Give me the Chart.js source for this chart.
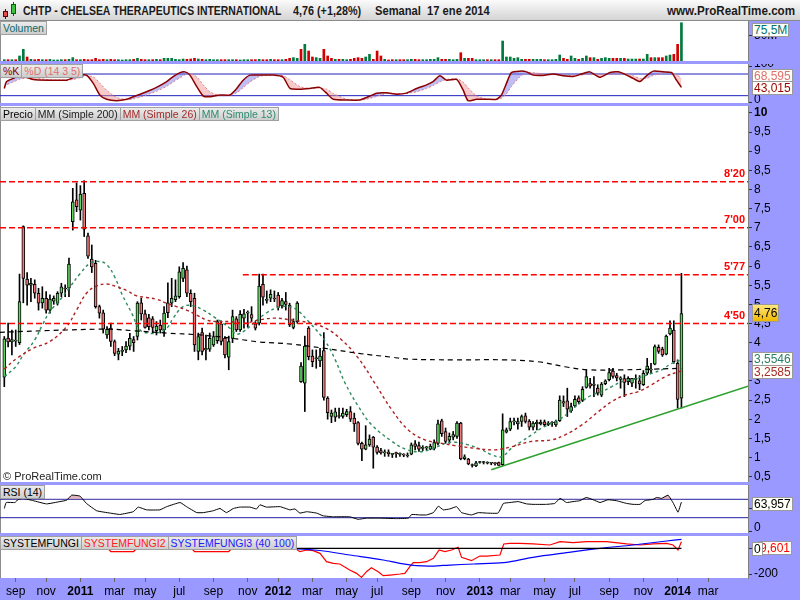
<!DOCTYPE html>
<html>
<head>
<meta charset="utf-8">
<script src="https://cdn.jsdelivr.net/npm/chart.js@4.4.1/dist/chart.umd.min.js"></script>
<style>
  body { margin:0; width:800px; height:600px; position:relative; overflow:hidden; background:#9999ff;
         font-family:"Liberation Sans", Arial, sans-serif; }
  canvas { position:absolute; left:0; }
  .hdr { position:absolute; left:0; top:0; width:800px; height:21px; box-sizing:border-box;
         background:linear-gradient(#fbfbfb,#d4d4d4); border-bottom:1px solid #8a8a8a;
         font-weight:bold; font-size:12px; color:#1a1a1a; }
  .hdr span { position:absolute; top:4px; white-space:nowrap; transform-origin:left center; }
  .tabs { position:absolute; left:0; display:flex; }
  .tab { height:12px; line-height:12px; font-size:10.5px; padding:0 2px; white-space:nowrap;
         background:linear-gradient(#ececec,#cdcdcd); border:1px solid #a0a0a0; margin-right:-1px; }
  .box { position:absolute; font-size:12px; line-height:12px; padding:0 1px; background:#fffffa;
         border:1px solid #9a9a9a; white-space:nowrap; }
  .copy { position:absolute; left:3px; top:470px; font-size:11px; color:#222; }
</style>
</head>
<body>
<div class="hdr">
  <div style="position:absolute;left:5px;top:9px;width:1px;height:10px;background:#600"></div>
  <div style="position:absolute;left:3px;top:11px;width:5px;height:6px;background:#e05050;border:1px solid #600;box-sizing:border-box"></div>
  <div style="position:absolute;left:13px;top:2px;width:1px;height:14px;background:#060"></div>
  <div style="position:absolute;left:11px;top:4px;width:5px;height:10px;background:#40c040;border:1px solid #060;box-sizing:border-box"></div>
  <span style="left:23px;transform:scaleX(0.87)">CHTP - CHELSEA THERAPEUTICS INTERNATIONAL</span>
  <span style="left:293px;transform:scaleX(0.9)">4,76 (+1,28%)</span>
  <span style="left:375px;transform:scaleX(0.93)">Semanal&nbsp; 17 ene 2014</span>
  <span style="left:667px;transform:scaleX(0.97)">www.ProRealTime.com</span>
</div>

<canvas id="cVol" width="800" height="40" style="top:21px"></canvas>
<canvas id="cSto" width="800" height="39" style="top:64px"></canvas>
<canvas id="cPrice" width="800" height="376" style="top:106px"></canvas>
<canvas id="cRsi" width="800" height="48" style="top:485px"></canvas>
<canvas id="cSf" width="800" height="64" style="top:536px"></canvas>

<div class="tabs" style="top:21px"><div class="tab" style="color:#0a6a6a">Volumen</div></div>
<div class="tabs" style="top:64px">
  <div class="tab" style="color:#8b0000">%K</div>
  <div class="tab" style="color:#e07070">%D (14 3 5)</div>
</div>
<div class="tabs" style="top:107px">
  <div class="tab" style="color:#000">Precio</div>
  <div class="tab" style="color:#222">MM (Simple 200)</div>
  <div class="tab" style="color:#a52a2a">MM (Simple 26)</div>
  <div class="tab" style="color:#2e8b6f">MM (Simple 13)</div>
</div>
<div class="tabs" style="top:485px"><div class="tab" style="color:#000">RSI (14)</div></div>
<div class="tabs" style="top:536px">
  <div class="tab" style="color:#000">SYSTEMFUNGI</div>
  <div class="tab" style="color:#ff2020">SYSTEMFUNGI2</div>
  <div class="tab" style="color:#2020ff">SYSTEMFUNGI3 (40 100)</div>
</div>
<div class="copy">© ProRealTime.com</div>

<div class="box" style="left:752px;top:23px;color:#007070">75,5M</div>
<div class="box" style="left:752px;top:69px;color:#e07070">68,595</div>
<div class="box" style="left:752px;top:81px;color:#990000">43,015</div>
<div class="box" style="left:752px;top:304px;padding:2px 1px;background:linear-gradient(#ffe680,#f0b800);color:#000">4,76</div>
<div class="box" style="left:752px;top:352px;color:#2a8070">3,5546</div>
<div class="box" style="left:752px;top:365px;color:#a52a2a">3,2585</div>
<div class="box" style="left:752px;top:497px;color:#000">63,957</div>
<div class="box" style="left:758px;top:541px;color:#ff0000">9,601</div>
<div class="box" style="left:752px;top:542px;color:#000">0</div>

<script>
const FONT = '"Liberation Sans", Arial, sans-serif';
const X_MIN = -1.13, X_MAX = 195.5;

// x axis: week index of the first bar of each labelled month
const tickWeeks = [3, 11, 20, 29, 37, 46, 55, 64, 72, 81, 90, 98, 107, 116, 125, 133, 142, 150, 159, 168, 177, 185];
const tickLabels = ['sep', 'nov', '2011', 'mar', 'may', 'jul', 'sep', 'nov', '2012', 'mar', 'may', 'jul',
                    'sep', 'nov', '2013', 'mar', 'may', 'jul', 'sep', 'nov', '2014', 'mar'];

// weekly candles, from aug 2010 to 17 jan 2014
const candleOpen = [
  3.10, 4.12, 4.02, 4.04, 4.00, 7.03, 5.66, 5.50, 5.52, 5.29,
  5.04, 5.16, 4.85, 5.08, 5.03, 5.29, 5.42, 5.42, 7.16, 7.73,
  7.46, 7.90, 6.79, 6.18, 6.07, 4.94, 4.78, 4.20, 4.38, 4.03,
  3.70, 3.77, 3.81, 3.91, 4.08, 4.16, 5.04, 4.75, 4.65, 4.62,
  4.31, 4.45, 4.33, 5.04, 5.03, 5.12, 5.20, 5.68, 5.90, 5.29,
  5.16, 3.77, 4.26, 3.81, 3.83, 3.94, 4.05, 4.49, 4.12, 3.62,
  4.11, 4.62, 4.33, 4.64, 4.77, 4.73, 4.49, 4.51, 5.52, 5.10,
  5.16, 5.15, 5.24, 4.96, 5.07, 4.98, 4.40, 4.55, 2.98, 2.94,
  4.38, 3.65, 3.58, 3.52, 3.79, 2.55, 2.07, 2.05, 2.08, 2.07,
  2.12, 2.20, 2.03, 1.91, 1.37, 1.22, 1.33, 1.53, 1.27, 1.18,
  1.12, 1.14, 1.08, 1.12, 1.08, 1.08, 1.04, 1.09, 1.36, 1.31,
  1.24, 1.25, 1.22, 1.24, 1.37, 1.96, 1.68, 1.45, 1.53, 1.55,
  1.90, 0.97, 0.96, 0.80, 0.78, 0.87, 0.87, 0.85, 0.85, 0.86,
  0.87, 0.81, 1.66, 1.74, 1.93, 1.88, 1.94, 2.09, 1.95, 1.79,
  1.88, 1.88, 1.93, 1.86, 1.90, 1.85, 1.96, 2.46, 2.48, 2.22,
  2.35, 2.56, 2.49, 2.83, 2.93, 2.88, 2.81, 2.63, 2.93, 3.03,
  3.26, 3.14, 3.04, 3.06, 2.98, 2.94, 3.04, 3.00, 2.90, 3.20,
  3.28, 3.44, 3.88, 3.83, 3.70, 4.23, 4.33, 3.46, 2.55
];
const candleHigh = [
  4.16, 4.51, 4.33, 4.33, 5.79, 7.05, 5.83, 5.68, 5.64, 5.42,
  5.46, 5.33, 5.25, 5.22, 5.33, 5.55, 5.51, 6.21, 8.03, 8.17,
  8.10, 8.23, 6.86, 6.55, 6.15, 4.98, 4.85, 4.42, 4.51, 4.07,
  3.85, 3.90, 4.03, 4.24, 4.16, 5.07, 5.16, 4.85, 4.74, 4.68,
  4.55, 4.59, 4.94, 5.56, 5.68, 5.64, 5.98, 6.09, 6.00, 5.38,
  5.29, 4.25, 4.38, 4.20, 4.25, 4.29, 4.59, 4.57, 4.16, 4.17,
  4.85, 4.68, 4.84, 4.87, 4.83, 4.94, 4.55, 5.79, 5.79, 5.35,
  5.38, 5.35, 5.31, 5.16, 5.31, 5.03, 4.62, 5.07, 3.48, 4.17,
  4.42, 3.81, 3.81, 3.85, 4.26, 2.59, 2.24, 2.29, 2.29, 2.29,
  2.26, 2.33, 2.16, 1.94, 1.40, 1.83, 1.59, 1.55, 1.31, 1.24,
  1.20, 1.20, 1.11, 1.14, 1.12, 1.10, 1.12, 1.38, 1.44, 1.40,
  1.31, 1.29, 1.35, 1.46, 1.98, 2.00, 1.77, 1.64, 1.68, 1.94,
  1.92, 1.07, 0.98, 0.83, 0.90, 0.90, 0.90, 0.89, 0.87, 0.87,
  0.88, 2.14, 1.77, 2.03, 2.03, 2.03, 2.11, 2.16, 1.99, 1.94,
  1.98, 1.98, 1.98, 1.94, 1.94, 1.98, 2.61, 2.61, 2.81, 2.42,
  2.61, 2.61, 2.85, 3.29, 3.07, 3.11, 2.90, 2.96, 3.03, 3.33,
  3.33, 3.20, 3.11, 3.16, 3.11, 3.07, 3.16, 3.14, 3.27, 3.59,
  3.46, 3.94, 3.94, 3.88, 4.20, 4.57, 4.57, 3.55, 5.81
];
const candleLow = [
  2.85, 3.89, 3.68, 3.90, 3.95, 5.04, 4.98, 5.07, 5.16, 4.85,
  4.90, 4.77, 4.77, 5.00, 4.98, 5.20, 5.20, 5.20, 6.94, 7.42,
  7.20, 6.77, 6.20, 5.83, 4.90, 4.64, 4.25, 4.11, 3.90, 3.66,
  3.55, 3.66, 3.74, 3.81, 3.77, 4.07, 4.59, 4.38, 4.33, 4.25,
  4.20, 4.25, 4.16, 4.65, 4.94, 5.07, 5.16, 5.59, 5.20, 4.94,
  3.77, 3.55, 3.68, 3.55, 3.77, 3.90, 3.98, 3.94, 3.60, 3.29,
  4.00, 4.29, 4.29, 4.38, 4.40, 4.55, 4.33, 4.46, 4.98, 5.03,
  5.07, 5.07, 4.85, 4.90, 4.85, 4.42, 4.36, 4.51, 2.96, 2.20,
  3.55, 3.37, 3.33, 3.37, 2.50, 2.00, 1.91, 1.94, 2.03, 2.03,
  2.07, 1.94, 1.68, 1.33, 0.92, 1.20, 1.29, 0.72, 1.09, 1.09,
  1.03, 1.03, 1.00, 1.00, 1.03, 1.02, 1.01, 1.07, 1.20, 1.16,
  1.18, 1.20, 1.20, 1.20, 1.33, 1.55, 1.37, 1.37, 1.46, 1.50,
  0.94, 0.94, 0.81, 0.75, 0.76, 0.85, 0.83, 0.83, 0.81, 0.80,
  0.79, 0.79, 1.64, 1.70, 1.85, 1.74, 1.81, 1.90, 1.72, 1.72,
  1.72, 1.85, 1.81, 1.83, 1.81, 1.81, 1.94, 2.33, 2.07, 2.18,
  2.33, 2.40, 2.46, 2.81, 2.81, 2.59, 2.63, 2.59, 2.90, 3.00,
  3.07, 3.00, 2.81, 2.59, 2.90, 2.85, 2.81, 2.77, 2.88, 3.16,
  3.20, 3.42, 3.72, 3.64, 3.68, 4.20, 3.46, 2.29, 2.29
];
const candleClose = [
  4.10, 4.02, 4.08, 4.06, 5.07, 5.68, 5.50, 5.55, 5.29, 5.03,
  5.16, 4.85, 5.14, 5.16, 5.29, 5.46, 5.40, 6.05, 7.68, 7.55,
  7.88, 6.96, 6.26, 5.98, 4.94, 4.77, 4.35, 4.35, 4.03, 3.72,
  3.78, 3.78, 3.91, 4.11, 4.00, 5.03, 4.75, 4.40, 4.42, 4.40,
  4.43, 4.33, 4.77, 4.78, 5.16, 5.22, 5.85, 5.94, 5.29, 5.07,
  3.94, 4.16, 3.77, 3.85, 4.11, 4.16, 4.55, 4.03, 3.68, 4.03,
  4.68, 4.33, 4.74, 4.75, 4.78, 4.64, 4.38, 5.48, 5.19, 5.13,
  5.26, 5.14, 4.92, 5.10, 5.00, 4.46, 4.55, 5.03, 3.39, 3.91,
  3.63, 3.50, 3.60, 3.65, 2.57, 2.17, 2.16, 2.19, 2.07, 2.16,
  2.20, 2.00, 1.88, 1.37, 1.22, 1.33, 1.48, 1.27, 1.13, 1.12,
  1.13, 1.10, 1.08, 1.10, 1.08, 1.06, 1.06, 1.33, 1.29, 1.22,
  1.25, 1.26, 1.30, 1.39, 1.88, 1.62, 1.42, 1.55, 1.60, 1.90,
  0.96, 1.02, 0.83, 0.79, 0.86, 0.87, 0.87, 0.85, 0.85, 0.84,
  0.79, 1.72, 1.72, 1.94, 1.94, 1.94, 2.07, 1.94, 1.79, 1.90,
  1.92, 1.92, 1.86, 1.90, 1.90, 1.94, 2.50, 2.42, 2.26, 2.33,
  2.52, 2.46, 2.78, 3.11, 2.86, 2.92, 2.68, 2.92, 3.00, 3.22,
  3.12, 3.08, 3.08, 2.96, 3.07, 3.07, 3.07, 2.92, 3.20, 3.39,
  3.30, 3.90, 3.77, 3.68, 4.17, 4.38, 3.50, 2.52, 4.76
];
// weekly volume, millions of shares
const volumeM = [
  2.6, 2.6, 2.6, 2.6, 9.9, 23, 7.9, 3.3, 2.6, 3.3,
  2.6, 2.6, 3.3, 2.0, 2.0, 2.6, 2.6, 3.3, 6.6, 2.6,
  2.6, 3.3, 2.6, 2.6, 5.3, 2.6, 3.3, 2.6, 3.3, 2.6,
  2.6, 2.0, 2.6, 2.6, 3.3, 5.3, 3.3, 2.6, 2.6, 2.6,
  3.3, 2.6, 5.3, 5.3, 5.3, 3.3, 2.6, 3.9, 3.3, 3.9,
  5.3, 3.9, 3.3, 2.6, 3.3, 2.6, 2.6, 2.6, 2.6, 2.6,
  2.6, 2.6, 2.0, 2.6, 2.6, 2.6, 2.6, 3.3, 2.6, 2.6,
  3.3, 2.6, 2.6, 2.6, 3.3, 5.3, 6.6, 5.3, 23, 32.9,
  19.7, 7.9, 6.6, 5.3, 23, 9.9, 5.3, 3.3, 3.3, 3.3,
  2.6, 3.3, 5.3, 6.6, 5.3, 7.9, 13.1, 3.3, 19.7, 9.9,
  3.3, 2.0, 2.6, 2.6, 2.6, 2.6, 2.6, 3.3, 3.3, 2.6,
  2.6, 2.6, 3.3, 3.3, 6.6, 3.3, 3.3, 3.3, 2.6, 3.3,
  16.4, 5.3, 5.3, 5.3, 2.6, 2.6, 2.6, 2.6, 2.6, 2.6,
  2.6, 39.4, 7.9, 7.9, 5.3, 6.6, 3.3, 3.3, 3.3, 3.3,
  3.3, 3.3, 2.6, 2.6, 2.6, 3.3, 11.8, 5.3, 3.3, 9.9,
  5.3, 3.3, 5.3, 9.9, 6.6, 6.6, 3.3, 5.3, 6.6, 5.3,
  5.3, 5.3, 5.3, 5.3, 3.9, 3.9, 3.9, 3.9, 3.9, 13.1,
  6.6, 6.6, 6.6, 6.6, 9.9, 11.8, 13.1, 32.9, 75.5
];

// moving averages (week index, price)
const ma200Weeks = [-1.2, 16.4, 27.8, 34, 42.7, 51.4, 59.3, 66.8, 75.5, 84.3, 93.1, 101.8, 106.2, 118.5, 131.6, 140.3, 147.4, 153.5, 162.3, 171, 178];
const ma200 = [4.27, 4.33, 4.35, 4.31, 4.25, 4.20, 4.12, 4.02, 3.96, 3.85, 3.72, 3.62, 3.57, 3.55, 3.55, 3.50, 3.37, 3.29, 3.29, 3.31, 3.33];
const ma26Weeks = [0, 3.3, 7.6, 12, 16.4, 19, 21.6, 24.3, 26.9, 29.5, 32.2, 34.8, 37.4, 40.1, 42.7, 45.3, 47.9, 50.6, 53.2, 55.8,
  59.3, 63.3, 66.8, 71.2, 75.5, 80, 84.4, 88.7, 93.1, 97.4, 101.9, 106.2, 110.6, 115, 118.5, 123.7, 129, 133.3, 138.6, 143.9,
  147.4, 151.8, 156.2, 159.7, 163.2, 166.7, 170.2, 173.7, 177.2, 178];
const ma26 = [3.31, 3.59, 3.85, 4.03, 4.42, 4.85, 5.29, 5.48, 5.53, 5.46, 5.36, 5.22, 5.18, 5.13, 5.03, 4.94, 4.85, 4.72, 4.59, 4.55,
  4.55, 4.51, 4.59, 4.64, 4.59, 4.52, 4.38, 4.07, 3.59, 2.94, 2.24, 1.72, 1.46, 1.37, 1.31, 1.24, 1.20, 1.28, 1.42, 1.46,
  1.59, 1.85, 2.20, 2.46, 2.63, 2.72, 2.90, 3.11, 3.24, 3.26];
const ma13Weeks = [0, 3, 5, 8, 10, 12, 15, 17, 20, 22.5, 25, 27, 29, 31, 33.5, 35.7, 37.8, 40, 42.7, 44.4,
  47, 49.7, 52.3, 55, 57.5, 59.5, 61, 63, 66, 69, 72, 75, 77, 80, 84.4, 87, 89.6, 93.1, 96.6, 101.9,
  105.4, 108.9, 112.4, 115.9, 118.5, 122, 125.5, 128.1, 130.7, 133.3, 136, 138.6, 141.3, 143.9, 146.5, 149.1, 151.8, 154.4,
  157, 159.7, 162.3, 164.9, 167.6, 170.2, 172.8, 175.5, 178];
const ma13 = [3.11, 3.37, 3.68, 4.07, 4.46, 4.81, 5.16, 5.42, 5.81, 6.07, 6.12, 6.03, 5.72, 5.25, 4.77, 4.33, 4.25, 4.25, 4.38, 4.64,
  4.94, 4.96, 4.85, 4.68, 4.51, 4.36, 4.22, 4.30, 4.55, 4.78, 4.92, 4.94, 4.85, 4.55, 4.03, 3.55, 2.94, 2.33, 1.85, 1.42,
  1.22, 1.15, 1.22, 1.37, 1.40, 1.33, 1.20, 1.07, 1.02, 1.24, 1.42, 1.59, 1.77, 1.90, 2.03, 2.24, 2.46, 2.63,
  2.72, 2.85, 2.98, 3.03, 3.11, 3.20, 3.29, 3.46, 3.55];

// horizontal levels and support line
const levelValues = [8.20, 7.00, 5.77, 4.50];
const levelTexts = ["8'20", "7'00", "5'77", "4'50"];
const levelStart = [X_MIN, X_MIN, 62.7, X_MIN];
const trendWeeks = [128, 195.5];
const trendValues = [0.68, 2.86];
const priceTicks = [0.5, 1, 1.5, 2, 2.5, 3, 3.5, 4, 4.5, 5, 5.5, 6, 6.5, 7, 7.5, 8, 8.5, 9, 9.5, 10];

// stochastic %K / %D (14 3 5)
const stochWeeks = [0, 0.6, 2.4, 4.1, 7.6, 12, 16.4, 18.1, 19.9, 21.6, 23.4, 25.1, 26.9, 29.5, 32.2, 33.9, 35.7, 37.4, 40, 42.7,
  44.4, 46.2, 47.5, 48.8, 50.6, 52.3, 54.1, 56.7, 59.3, 61.1, 62.8, 64.6, 67.2, 70.7, 73.3, 75.1, 77.7, 80.3, 82.9, 84.7,
  86.5, 90, 93.5, 95.2, 97.9, 100.5, 103.1, 105.7, 108.4, 111, 112.7, 114.5, 116.3, 118.9, 120.6, 121.9, 124.1, 126.8, 129.4, 130.7,
  132, 133.3, 135.5, 137.3, 139, 141.6, 144.3, 146.9, 149.5, 151.7, 153.9, 156.5, 159.2, 161.4, 163.6, 165.3, 167.1, 168.8, 170.6, 173.2,
  175.4, 176.7, 178];
const stochK = [40, 59, 68, 77, 65, 63, 63, 70, 77, 77, 54, 22, 10, 6, 10, 17, 24, 31, 43, 59,
  73, 84, 86, 77, 45, 19, 17, 22, 22, 40, 63, 77, 77, 77, 71, 40, 38, 40, 43, 27,
  10, 8, 8, 15, 27, 28, 24, 27, 40, 50, 59, 75, 63, 65, 36, 6, 10, 10, 10, 22,
  54, 84, 88, 86, 77, 76, 80, 75, 73, 80, 86, 71, 84, 86, 77, 68, 59, 75, 88, 86,
  84, 63, 43];
const stochD = [45, 50, 58, 66, 70, 64, 63, 65, 70, 75, 72, 55, 35, 15, 9, 11, 16, 22, 32, 46,
  58, 70, 78, 82, 72, 50, 30, 20, 21, 28, 42, 58, 74, 77, 75, 64, 45, 40, 41, 38,
  26, 10, 8, 10, 18, 26, 26, 26, 31, 40, 48, 58, 65, 67, 58, 42, 20, 10, 10, 13,
  25, 45, 72, 84, 84, 80, 78, 77, 76, 77, 80, 78, 79, 81, 80, 75, 68, 68, 76, 84,
  85, 78, 68.6];

// RSI (14)
const rsiWeeks = [0, 0.5, 2.8, 3.7, 5, 7.6, 11.1, 14.6, 16.4, 17.7, 19.9, 21.6, 24.3, 27.8, 30.4, 33.9, 35.2, 37.4, 40.9, 42.7,
  46.2, 47.9, 50.6, 52.3, 54.9, 56.7, 58.4, 60.2, 61.9, 64.6, 66.3, 67.2, 68.9, 72.5, 75.1, 76.4, 77.7, 79.5, 82.1, 83.8,
  86.5, 90.8, 93, 95.2, 98.7, 103.1, 106.2, 107.1, 109.2, 111, 112.8, 114.1, 115.4, 117.1, 118.9, 120.2, 122.8, 124.6, 126.8, 129.8,
  131.2, 132.9, 135.1, 137.3, 139, 142.5, 144.7, 146.1, 147.8, 149.5, 151.3, 153, 154.8, 156.6, 158.7, 160.9, 163.6, 165.3, 167.1, 168.4,
  170.6, 171.5, 172.8, 174.5, 175.9, 177.1, 178];
const rsi = [50, 63, 63, 70, 72, 67, 60, 65, 68, 79, 77, 61, 45, 40, 37, 43, 53, 47, 47, 54,
  63, 54, 41, 41, 45, 50, 41, 50, 53, 53, 49, 58, 53, 54, 47, 49, 40, 43, 40, 34,
  32, 32, 26.5, 29, 29, 28, 29, 37, 36, 36, 41, 55, 47, 49, 54, 41, 36, 41, 40, 40,
  61, 63, 65, 60, 59, 59, 61, 72, 63, 65, 67, 74, 69, 63, 69, 67, 61, 59, 59, 67,
  70, 74, 72, 79, 61, 42, 64];

// SYSTEMFUNGI lines
const sfBlackWeeks = [0, 178];
const sfBlack = [0, 0];
const sfRedWeeks = [0, 27, 28, 34, 35, 49, 50, 59, 60, 74.2, 76, 77.7, 79.5, 81.2, 83, 84.7, 86.5, 88.2, 90.8, 92.6,
  93.9, 95.2, 96.5, 98.3, 99.6, 101.4, 104, 105.3, 106.6, 107.5, 109.2, 111, 112.8, 114.3, 115.8, 117.6, 119.3, 120.2, 122.8, 125,
  126.8, 130.3, 131.3, 132.9, 135.5, 139, 143.4, 146.1, 149.5, 153.1, 158.3, 163.6, 167.1, 170.6, 174.1, 175.8, 177.1, 178];
const sfRed = [5, 5, -25, -25, 5, 5, -25, -25, 5, 0, 8, -26, -13, -18, -39, -104, -117, -122, -169, -195,
  -226, -182, -151, -182, -213, -208, -200, -195, -143, -112, -112, -104, -78, -13, -26, -13, 8, -70, -96, -60,
  -60, -52, 34, 39, 39, 34, 26, 52, 44, 52, 52, 34, 26, 34, 39, 26, -13, 52];
const sfBlueWeeks = [0, 40, 74.2, 83, 90.8, 99.6, 104, 108.4, 112.8, 117.1, 123.3, 131.2, 139, 147.8, 156.6, 165.3, 174.1, 178];
const sfBlue = [20, 15, 0, -17, -52, -91, -117, -135, -138, -130, -122, -112, -70, -34, 0, 26, 57, 70];

const pts = (xs, ys) => xs.map((x, k) => ({ x: x, y: ys[k] }));
const flat = (v, x0) => [{ x: x0, y: v }, { x: X_MAX, y: v }];

// white plot area with a grey left edge
const panelBg = {
  id: 'panelBg',
  beforeDraw(chart) {
    const { ctx, chartArea: a } = chart;
    ctx.save();
    ctx.fillStyle = '#ffffff';
    ctx.fillRect(a.left, a.top, a.right - a.left, a.bottom - a.top);
    ctx.fillStyle = '#8c8c8c';
    ctx.fillRect(a.left, a.top, 1, a.bottom - a.top);
    ctx.restore();
  }
};

// red level captions on the right of the price panel
const levelLabels = {
  id: 'levelLabels',
  afterDatasetsDraw(chart) {
    const { ctx, chartArea: a, scales: { y } } = chart;
    ctx.save();
    ctx.font = 'bold 11px ' + FONT;
    ctx.fillStyle = '#ff0000';
    ctx.textAlign = 'right';
    ctx.textBaseline = 'bottom';
    levelValues.forEach((v, k) => ctx.fillText(levelTexts[k], a.right - 3, y.getPixelForValue(v) - 2));
    ctx.restore();
  }
};

function noPad(s) {
  s.paddingTop = 0; s.paddingBottom = 0; s.paddingLeft = 0; s.paddingRight = 0;
}

function xScale(show) {
  return {
    type: 'linear', min: X_MIN, max: X_MAX, bounds: 'data', offset: false, display: show,
    grid: { drawOnChartArea: false, tickLength: 4, color: '#666', offset: false },
    border: { display: false },
    afterBuildTicks: s => { s.ticks = tickWeeks.map(v => ({ value: v })); },
    ticks: {
      autoSkip: false, maxRotation: 0, padding: 2, color: '#000',
      font: c => ({ family: FONT, size: 12, weight: /^\d{4}$/.test(tickLabels[c.index]) ? 'bold' : 'normal' }),
      callback: (v, i) => tickLabels[i]
    },
    afterFit: s => { if (show) s.height = 22; noPad(s); }
  };
}

function yScale(min, max, tickVals, fmt, labelOffset) {
  return {
    type: 'linear', position: 'right', min: min, max: max, bounds: 'data', beginAtZero: false,
    grid: { drawOnChartArea: false, tickLength: 4, color: '#333' },
    border: { display: true, color: '#808080' },
    afterBuildTicks: s => { s.ticks = tickVals.map(v => ({ value: v })); },
    ticks: {
      autoSkip: false, padding: 2, color: '#000', labelOffset: labelOffset || 0,
      font: c => ({ family: FONT, size: 12, weight: c.tick && c.tick.value === 10 ? 'bold' : 'normal' }),
      callback: fmt
    },
    afterFit: s => { s.width = 52; noPad(s); }
  };
}

const comma = v => String(v).replace('.', ',');

function baseOptions(scales) {
  return {
    responsive: false, animation: false, events: [],
    layout: { padding: 0 },
    plugins: { legend: { display: false }, tooltip: { enabled: false } },
    scales: scales
  };
}

// volume
new Chart(document.getElementById('cVol'), {
  type: 'bar',
  data: {
    datasets: [{
      data: volumeM.map((v, i) => ({ x: i, y: v })),
      backgroundColor: candleClose.map((c, i) => (i === 0 || c >= candleClose[i - 1]) ? '#007a3d' : '#d00000'),
      barThickness: 2, grouped: false
    }]
  },
  options: baseOptions({ x: xScale(false), y: yScale(0, 78.9, [50], v => v + 'M') }),
  plugins: [panelBg]
});

// stochastic
new Chart(document.getElementById('cSto'), {
  type: 'line',
  data: {
    datasets: [
      { data: pts(stochWeeks, stochK), borderColor: '#8b0000', borderWidth: 1.5, pointRadius: 0, tension: 0.2,
        fill: { target: 1, above: 'rgba(110,110,230,0.45)', below: 'rgba(240,140,140,0.45)' } },
      { data: pts(stochWeeks, stochD), borderColor: '#f08080', borderWidth: 1, borderDash: [2, 2], pointRadius: 0, tension: 0.2 },
      { data: flat(80, X_MIN), borderColor: '#2020c0', borderWidth: 1, pointRadius: 0 },
      { data: flat(20, X_MIN), borderColor: '#2020c0', borderWidth: 1, pointRadius: 0 }
    ]
  },
  options: baseOptions({ x: xScale(false), y: yScale(-0.3, 107.8, [0, 100], v => String(v), -3) }),
  plugins: [panelBg]
});

// price
new Chart(document.getElementById('cPrice'), {
  type: 'bar',
  data: {
    datasets: [
      { type: 'line', data: pts(ma200Weeks, ma200), borderColor: '#000', borderWidth: 1.2, borderDash: [5, 4],
        pointRadius: 0, tension: 0.4, order: 1 },
      { type: 'line', data: pts(ma26Weeks, ma26), borderColor: '#b02020', borderWidth: 1.4, borderDash: [3, 3],
        pointRadius: 0, tension: 0.4, order: 1 },
      { type: 'line', data: pts(ma13Weeks, ma13), borderColor: '#2f8a5e', borderWidth: 1.4, borderDash: [3, 3],
        pointRadius: 0, tension: 0.4, order: 1 },
      ...levelValues.map((v, k) => ({ type: 'line', data: flat(v, levelStart[k]), borderColor: '#ff0000',
        borderWidth: 1.5, borderDash: [6, 3], pointRadius: 0, order: 0 })),
      { type: 'line', data: pts(trendWeeks, trendValues), borderColor: '#2ca02c', borderWidth: 1.5, pointRadius: 0, order: 0 },
      { type: 'bar', data: candleOpen.map((o, i) => ({ x: i, y: [candleLow[i], candleHigh[i]] })),
        backgroundColor: '#000', barThickness: 1, grouped: false, order: 3 },
      { type: 'bar', data: candleOpen.map((o, i) => ({ x: i, y: [o, candleClose[i]] })),
        backgroundColor: candleOpen.map((o, i) => candleClose[i] >= o ? '#5fd75f' : '#f07878'),
        borderColor: '#000', borderWidth: 1, borderSkipped: false, barThickness: 3, minBarLength: 1,
        grouped: false, order: 2 }
    ]
  },
  options: baseOptions({ x: xScale(false), y: yScale(0.36, 10.18, priceTicks, comma) }),
  plugins: [panelBg, levelLabels]
});

// RSI
new Chart(document.getElementById('cRsi'), {
  type: 'line',
  data: {
    datasets: [
      { data: pts(rsiWeeks, rsi), borderColor: '#000', borderWidth: 1, pointRadius: 0, tension: 0.1,
        fill: { value: 70, above: 'rgba(215,150,165,0.7)', below: 'rgba(0,0,0,0)' } },
      { data: flat(70, X_MIN), borderColor: '#2020a0', borderWidth: 1, pointRadius: 0 },
      { data: flat(30, X_MIN), borderColor: '#2020a0', borderWidth: 1, pointRadius: 0 }
    ]
  },
  options: baseOptions({ x: xScale(false), y: yScale(-3.3, 101.1, [0, 50], v => String(v), -4) }),
  plugins: [panelBg]
});

// SYSTEMFUNGI panel with the date axis
new Chart(document.getElementById('cSf'), {
  type: 'line',
  data: {
    datasets: [
      { data: pts(sfBlackWeeks, sfBlack), borderColor: '#000', borderWidth: 1.2, pointRadius: 0 },
      { data: pts(sfBlueWeeks, sfBlue), borderColor: '#0000ff', borderWidth: 1.2, pointRadius: 0, tension: 0.3 },
      { data: pts(sfRedWeeks, sfRed), borderColor: '#ff0000', borderWidth: 1.2, pointRadius: 0 }
    ]
  },
  options: baseOptions({ x: xScale(true), y: yScale(-231, 96, [-200, 0], v => String(v)) }),
  plugins: [panelBg]
});
</script>
</body>
</html>
